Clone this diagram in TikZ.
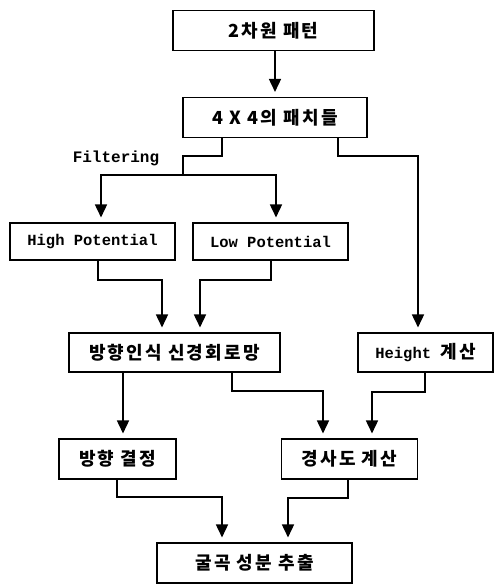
\documentclass[tikz,border=0pt]{standalone}
\usepackage{fontspec}
\setmainfont{Liberation Mono}
\newfontfamily\krfont{Noto Sans CJK KR}[LetterSpace=12]
\usetikzlibrary{arrows.meta}
\newcommand{\K}[1]{{\krfont\bfseries\fontsize{18}{20}\selectfont #1}}
\begin{document}
\begin{tikzpicture}[x=1pt,y=-1pt,
  box/.style={draw,line width=1.1pt,inner sep=0pt,font=\bfseries\fontsize{15.5}{18}\selectfont},
  conn/.style={line width=1.6pt},
  arr/.style={conn,-{Triangle[width=12pt,length=13pt]},shorten >=5pt}]
\useasboundingbox (0,0) rectangle (494,584);
\node[box,minimum width=201pt,minimum height=40pt] (b1) at (273.5,30.5) {\K{2차원 패턴}};
\node[box,minimum width=184pt,minimum height=40pt] (b2) at (275,117.5) {\K{4 X 4의 패치들}};
\node[box,minimum width=165pt,minimum height=37pt] (hp) at (92.5,241.5) {High Potential};
\node[box,minimum width=155pt,minimum height=37pt] (lp) at (270.5,241.5) {Low Potential};
\node[box,minimum width=211pt,minimum height=39pt] (nn) at (174.5,352.5) {\K{방향인식 신경회로망}};
\node[box,minimum width=135pt,minimum height=39pt] (ht) at (425.5,352.5) {Height \K{계산}};
\node[box,minimum width=117pt,minimum height=40pt] (dir) at (117.5,459) {\K{방향 결정}};
\node[box,minimum width=136pt,minimum height=40pt] (grad) at (349.5,459) {\K{경사도 계산}};
\node[box,minimum width=195pt,minimum height=40pt] (out) at (254.5,563) {\K{굴곡 성분 추출}};
\node[font=\bfseries\fontsize{16}{18}\selectfont,inner sep=0pt] (filt) at (116,158) {Filtering};
% coordinates
\coordinate (k1) at (222,156);
\coordinate (k2) at (183,175);
\coordinate (fl) at (101,175);
\coordinate (fr) at (276,175);
\coordinate (r1) at (338,156);
\coordinate (r2) at (418,156);
\coordinate (h1) at (98,280);
\coordinate (h2) at (162,280);
\coordinate (l1) at (271,280);
\coordinate (l2) at (200,280);
\coordinate (n1) at (123,0);
\coordinate (n2) at (232,391);
\coordinate (n3) at (323,391);
\coordinate (t1) at (425,392);
\coordinate (t2) at (372,392);
\coordinate (d1) at (117,497);
\coordinate (d2) at (222,497);
\coordinate (g1) at (348,498);
\coordinate (g2) at (288,498);
% connectors
\draw[arr] (b1.south -| b2.north) -- (b2.north);
\draw[conn] (b2.south -| k1) -- (k1) -| (k2);
\draw[arr] (k2) -| (hp.north -| fl);
\draw[arr] (k2) -| (lp.north -| fr);
\draw[arr] (b2.south -| r1) -- (r1) -| (ht.north -| r2);
\draw[arr] (hp.south -| h1) -- (h1) -| (nn.north -| h2);
\draw[arr] (lp.south -| l1) -- (l1) -| (nn.north -| l2);
\draw[arr] (nn.south -| n1) -- (dir.north -| n1);
\draw[arr] (nn.south -| n2) -- (n2) -| (grad.north -| n3);
\draw[arr] (ht.south -| t1) -- (t1) -| (grad.north -| t2);
\draw[arr] (dir.south -| d1) -- (d1) -| (out.north -| d2);
\draw[arr] (grad.south -| g1) -- (g1) -| (out.north -| g2);
\end{tikzpicture}
\end{document}
